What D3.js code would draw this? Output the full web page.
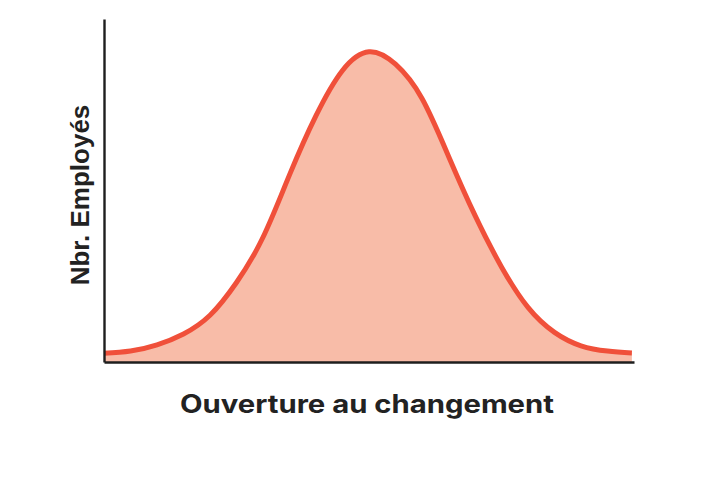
<!DOCTYPE html>
<html>
<head>
<meta charset="utf-8">
<script src="https://cdn.jsdelivr.net/npm/d3@7"></script>
<style>
  body { margin: 0; background: #fff; }
  .axis path { stroke: #1e1e1e; stroke-width: 2.4; }
  .label { font-weight: 700; fill: #222; }
</style>
</head>
<body>
<div id="chart"></div>
<script>
// values: openness (0-100) and relative employee count
let openness  = [0, 5, 10, 15, 20, 25, 30, 35, 40, 45, 50, 55, 60, 65, 70, 75, 80, 85, 90, 95, 99.6]
let employees = [2.8, 3.5, 5.5, 9, 15, 25.5, 40, 60, 79, 93.5, 99.5, 95.5, 84.5, 66, 47, 30.5, 17.5, 9.5, 5.2, 3.5, 2.9]
let xTitle = 'Ouverture au changement'
let yTitle = 'Nbr. Employés'

let width = 720, height = 480
let margin = {top: 19, right: 86, bottom: 118, left: 104}

let svg = d3.select('#chart')
  .append('svg')
  .attr('width', width)
  .attr('height', height)

let x = d3.scaleLinear().domain([0, 100]).range([margin.left, width - margin.right])
let y = d3.scaleLinear().domain([0, 110]).range([height - margin.bottom, margin.top])

let points = openness.map((o, i) => ({x: o, y: employees[i]}))

// filled area under the bell
let area = d3.area()
  .x(d => x(d.x))
  .y0(y(0))
  .y1(d => y(d.y))
  .curve(d3.curveNatural)

svg.append('path')
  .datum(points)
  .attr('d', area)
  .style('fill', '#f8bca8')

let line = d3.line()
  .x(d => x(d.x))
  .y(d => y(d.y))
  .curve(d3.curveNatural)

svg.append('path')
  .datum(points)
  .attr('d', line)
  .style('fill', 'none')
  .style('stroke', '#f0503a')
  .style('stroke-width', 5)

// axes, only the lines
svg.append('g')
  .attr('class', 'axis')
  .attr('transform', 'translate(0,' + y(0) + ')')
  .call(d3.axisBottom(x).ticks(0).tickSize(0))

svg.append('g')
  .attr('class', 'axis')
  .attr('transform', 'translate(' + x(0) + ',0)')
  .call(d3.axisLeft(y).ticks(0).tickSize(0))

svg.append('text')
  .attr('class', 'label')
  .attr('x', 367)
  .attr('y', 413)
  .attr('text-anchor', 'middle')
  .attr('textLength', 374)
  .attr('lengthAdjust', 'spacingAndGlyphs')
  .style('font-family', 'Inter, "Open Sans", sans-serif')
  .style('font-size', '25px')
  .text(xTitle)

svg.append('text')
  .attr('class', 'label')
  .attr('transform', 'translate(89,195) rotate(-90)')
  .attr('text-anchor', 'middle')
  .style('font-family', '"Liberation Sans", Arial, sans-serif')
  .style('font-size', '26px')
  .text(yTitle)
</script>
</body>
</html>
